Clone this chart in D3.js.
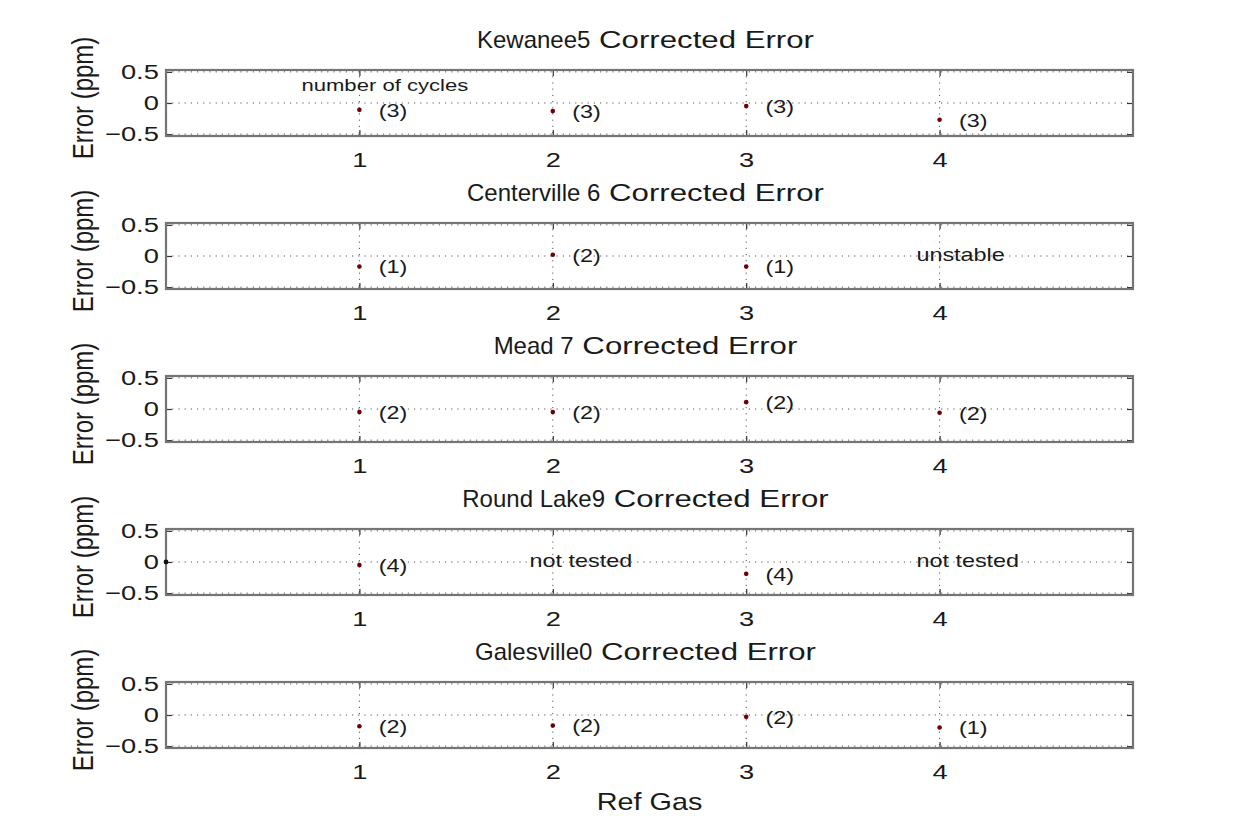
<!DOCTYPE html>
<html><head><meta charset="utf-8">
<script src="https://cdn.jsdelivr.net/npm/d3@7/dist/d3.min.js"></script>
<style>
body{margin:0;background:#fff;}
svg text{font-family:"Liberation Sans",Arial,Helvetica,sans-serif;fill:#1a1a1a;}
</style></head><body>
<svg id="chart" width="1234" height="816"></svg>
<script>
// Reference gases on the x axis and axis ticks
const refGases = [1, 2, 3, 4];
const xTicks = [1, 2, 3, 4];
const yTicks = [-0.5, 0, 0.5];

// Site names shown in the panel titles
const siteNames = ["Kewanee5", "Centerville 6", "Mead 7", "Round Lake9", "Galesville0"];

// Corrected error (ppm) per reference gas, null where no value
const kewaneeErr     = [-0.11, -0.13, -0.05, -0.27];
const centervilleErr = [-0.17,  0.02, -0.17, null];
const meadErr        = [-0.05, -0.05,  0.11, -0.06];
const roundLakeErr   = [-0.05,  null, -0.19, null];
const galesvilleErr  = [-0.18, -0.17, -0.03, -0.20];

// Number of cycles behind each value
const kewaneeCycles     = [3, 3, 3, 3];
const centervilleCycles = [1, 2, 1, null];
const meadCycles        = [2, 2, 2, 2];
const roundLakeCycles   = [4, null, 4, null];
const galesvilleCycles  = [2, 2, 2, 1];

// Notes written where a gas has no value
const centervilleNotes = [null, null, null, "unstable"];
const roundLakeNotes   = [null, "not tested", null, "not tested"];
const emptyNotes       = [null, null, null, null];

// Extra origin marker drawn on the Round Lake panel
const roundLakeOrigin = [{gas: 0, err: 0}];

const panels = [
  {name: siteNames[0], err: kewaneeErr,     cycles: kewaneeCycles,     notes: emptyNotes,       extra: []},
  {name: siteNames[1], err: centervilleErr, cycles: centervilleCycles, notes: centervilleNotes, extra: []},
  {name: siteNames[2], err: meadErr,        cycles: meadCycles,        notes: emptyNotes,       extra: []},
  {name: siteNames[3], err: roundLakeErr,   cycles: roundLakeCycles,   notes: roundLakeNotes,   extra: roundLakeOrigin},
  {name: siteNames[4], err: galesvilleErr,  cycles: galesvilleCycles,  notes: emptyNotes,       extra: []}
];

const svg = d3.select("#chart");
const SX = 1.3;              // horizontal stretch of the lettering
const x = d3.scaleLinear().domain([0, 5]).range([166, 1133]);
const yPad = 0.53;

panels.forEach((p, i) => {
  const y0 = 103 + 153 * i;
  const y = d3.scaleLinear().domain([-yPad, yPad]).range([y0 + 33, y0 - 33]);
  const g = svg.append("g");

  // dotted grid
  g.selectAll("line.vgrid").data(xTicks).join("line")
    .attr("class", "vgrid")
    .attr("x1", d => x(d)).attr("x2", d => x(d))
    .attr("y1", y(yPad)).attr("y2", y(-yPad))
    .attr("stroke", "#555").attr("stroke-width", 1)
    .attr("stroke-dasharray", "1.2,5");
  g.selectAll("line.hgrid").data(yTicks).join("line")
    .attr("class", "hgrid")
    .attr("x1", x(0)).attr("x2", x(5))
    .attr("y1", d => y(d)).attr("y2", d => y(d))
    .attr("stroke", "#555").attr("stroke-width", 1)
    .attr("stroke-dasharray", "1.2,5");

  // axes with inward ticks
  const bottom = g.append("g").attr("transform", `translate(0,${y(-yPad)})`)
    .call(d3.axisBottom(x).tickValues(xTicks).tickFormat(d3.format("d"))
      .tickSizeInner(-6).tickSizeOuter(0).tickPadding(16));
  const top = g.append("g").attr("transform", `translate(0,${y(yPad)})`)
    .call(d3.axisTop(x).tickValues(xTicks).tickFormat("")
      .tickSizeInner(-6).tickSizeOuter(0));
  const left = g.append("g").attr("transform", `translate(${x(0)},0)`)
    .call(d3.axisLeft(y).tickValues(yTicks).tickFormat(d => d === 0 ? "0" : d3.format(".1f")(d).replace("-", "\u2212"))
      .tickSizeInner(-6).tickSizeOuter(0).tickPadding(5.5));
  const right = g.append("g").attr("transform", `translate(${x(5)},0)`)
    .call(d3.axisRight(y).tickValues(yTicks).tickFormat("")
      .tickSizeInner(-6).tickSizeOuter(0));
  [bottom, top, left, right].forEach(a => {
    a.select(".domain").remove();
    a.selectAll(".tick line").attr("stroke", "#333").attr("stroke-width", 1.2);
    a.selectAll("text").attr("font-size", 21).attr("fill", "#1a1a1a")
      .attr("font-family", '"Liberation Sans",Arial,sans-serif')
      .attr("transform", `scale(${SX},1)`);
  });

  // frame
  g.append("rect")
    .attr("x", x(0)).attr("y", y(yPad))
    .attr("width", x(5) - x(0)).attr("height", y(-yPad) - y(yPad))
    .attr("fill", "none").attr("stroke", "#757575").attr("stroke-width", 2.2);

  // title: site name, then "Corrected Error" in wider lettering
  const tg = g.append("g");
  const t1 = tg.append("text").attr("font-size", 24).text(p.name);
  const t2 = tg.append("text").attr("font-size", 24).text("\u00a0Corrected Error");
  const w1 = t1.node().getComputedTextLength();
  const w2 = t2.node().getComputedTextLength() * SX;
  const cx = (x(0) + x(5)) / 2 - 4;
  const ty = y(yPad) - 22;
  const start = cx - (w1 + w2) / 2;
  t1.attr("x", start).attr("y", ty);
  t2.attr("transform", `translate(${start + w1},${ty}) scale(${SX},1)`);

  // y label
  g.append("text")
    .attr("transform", `translate(93,${y0 - 5}) scale(1.25,1) rotate(-90)`)
    .attr("text-anchor", "middle").attr("font-size", 24)
    .text("Error (ppm)");

  // points
  const pts = refGases.map((gas, k) => ({gas, err: p.err[k], n: p.cycles[k], note: p.notes[k]}));
  const valid = pts.filter(d => d.err !== null);
  g.selectAll("circle.pt").data(valid).join("circle")
    .attr("class", "pt")
    .attr("cx", d => x(d.gas)).attr("cy", d => y(d.err))
    .attr("r", 2.3).attr("fill", "#6e0000");
  g.selectAll("circle.origin").data(p.extra).join("circle")
    .attr("class", "origin")
    .attr("cx", d => x(d.gas)).attr("cy", d => y(d.err))
    .attr("r", 2.4).attr("fill", "#111");

  // cycle counts
  g.selectAll("text.cyc").data(valid).join("text")
    .attr("class", "cyc")
    .attr("transform", d => `translate(${x(d.gas + 0.1)},${y(d.err)}) scale(${SX},1)`)
    .attr("dy", "0.38em").attr("font-size", 18)
    .text(d => `(${d.n})`);

  // notes for missing values
  g.selectAll("text.note").data(pts.filter(d => d.note)).join("text")
    .attr("class", "note")
    .attr("transform", d => `translate(${x(d.gas - 0.12)},${y(0)}) scale(${SX},1)`)
    .attr("dy", "0.3em").attr("font-size", 18)
    .text(d => d.note);

  if (i === 0) {
    g.append("text")
      .attr("transform", `translate(${x(0.7)},${y(0.27)}) scale(${SX},1)`)
      .attr("dy", "0.3em").attr("font-size", 17)
      .text("number of cycles");
  }
});

// x axis label
svg.append("text")
  .attr("transform", `translate(${(x(0) + x(5)) / 2},810) scale(1.2,1)`)
  .attr("text-anchor", "middle").attr("font-size", 24)
  .text("Ref Gas");
</script>
</body></html>
